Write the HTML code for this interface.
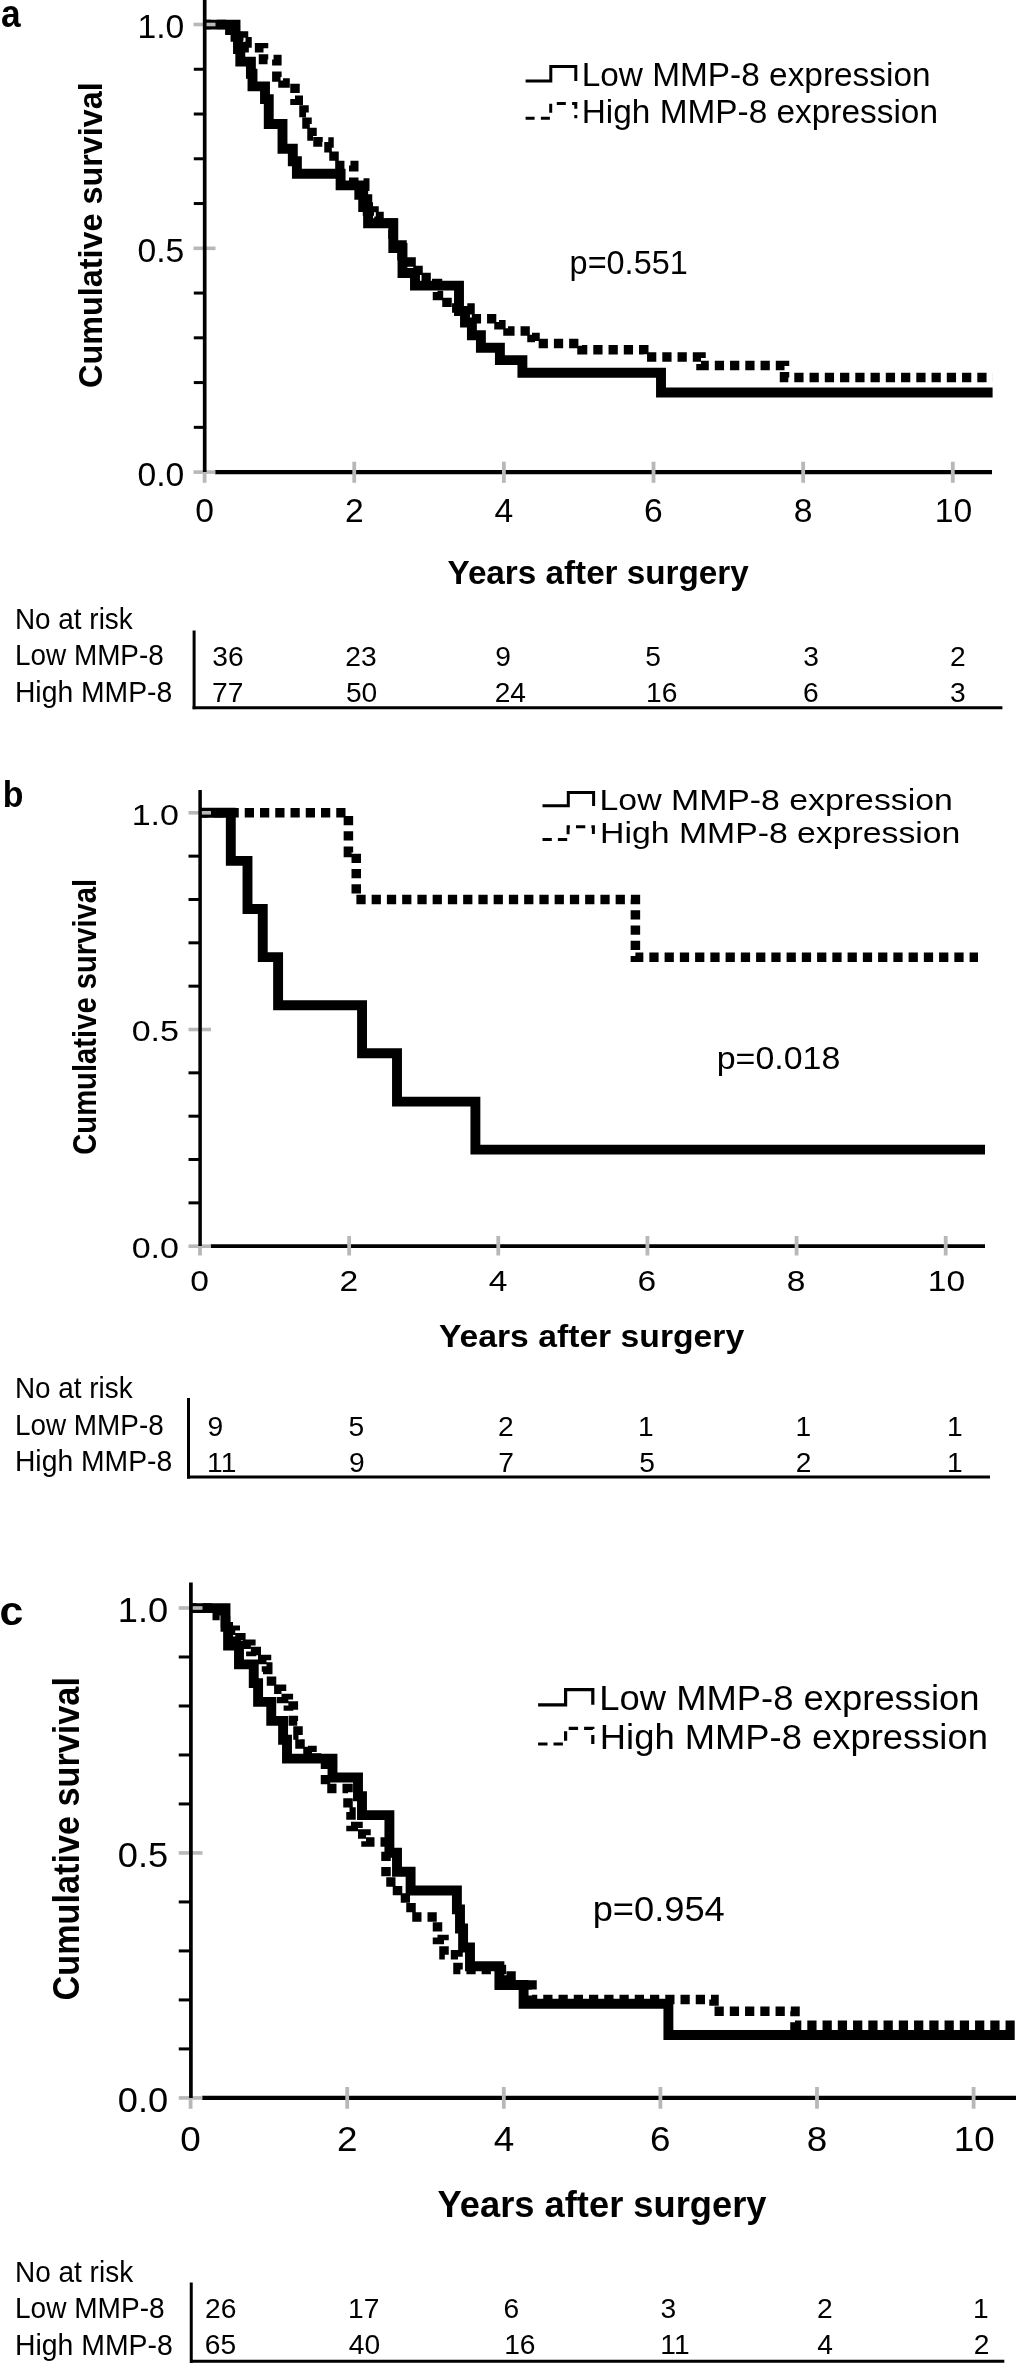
<!DOCTYPE html>
<html><head><meta charset="utf-8"><style>
html,body{margin:0;padding:0;background:#fff;}
svg{display:block;filter:grayscale(1);}
text{font-family:"Liberation Sans",sans-serif;fill:#000;}
</style></head><body>
<svg width="1016" height="2363" viewBox="0 0 1016 2363">
<rect width="1016" height="2363" fill="#fff"/>
<g id="pa">
<text transform="translate(0.94,27.2) scale(0.9128,1)" font-size="38.70" font-weight="bold">a</text>
<path d="M204.7,24.6 H235.5 V36.8 H238 V49 H240.3 V61.6 H250.9 V73.8 H252.5 V86.4 H265 V99.1 H268.75 V124 H282.5 V148.8 H292.8 V161.2 H296.9 V173.75 H340.6 V185.4 H359.3 V194.8 H363.2 V207.1 H368.1 V223.3 H393.3 V248 H402.5 V273 H415 V285.6 H459 V311 H465 V322.5 H471.9 V335.3 H480.9 V347.8 H499.9 V360.1 H522.4 V372.8 H661 V392.5 H992.6" fill="none" stroke="#000" stroke-width="9.9" stroke-linejoin="miter" stroke-linecap="butt"/>
<path d="M204.7,24.6 H229.85 V30.35 H235.35 V36 H243.5 V41.8 H247 V47.7 H263.5 V59.5 H276.85 V77 H283 V83 H295 V100.3 H304 V112.5 H307 V124 H312 V136 H318 V142 H329 V147.75 H334 V165.6 H353.75 V183 H364.75 V199 H367.5 V211 H374 V216.5 H379 V223 H393 V245 H402 V262 H418 V277.5 H432 V283.5 H437.5 V295.6 H447 V308 H470 V318.75 H499 V324.7 H508 V331 H532 V337.5 H535 V343.4 H582 V349.75 H643.75 V357 H701 V365.5 H784.5 V377.5 H992.6" fill="none" stroke="#000" stroke-width="9.5" stroke-dasharray="9.25 6" stroke-linejoin="miter" stroke-linecap="butt" stroke-dashoffset="3"/>
<line x1="215" y1="472.1" x2="992" y2="472.1" stroke="#000" stroke-width="4.2"/>
<line x1="193.8" y1="69.26" x2="204.7" y2="69.26" stroke="#000" stroke-width="3"/>
<line x1="193.8" y1="114.02" x2="204.7" y2="114.02" stroke="#000" stroke-width="3"/>
<line x1="193.8" y1="158.78" x2="204.7" y2="158.78" stroke="#000" stroke-width="3"/>
<line x1="193.8" y1="203.54" x2="204.7" y2="203.54" stroke="#000" stroke-width="3"/>
<line x1="193.8" y1="293.06" x2="204.7" y2="293.06" stroke="#000" stroke-width="3"/>
<line x1="193.8" y1="337.82" x2="204.7" y2="337.82" stroke="#000" stroke-width="3"/>
<line x1="193.8" y1="382.58" x2="204.7" y2="382.58" stroke="#000" stroke-width="3"/>
<line x1="193.8" y1="427.34" x2="204.7" y2="427.34" stroke="#000" stroke-width="3"/>
<line x1="354.24" y1="461.7" x2="354.24" y2="482.8" stroke="#b8b8b8" stroke-width="3.8"/>
<line x1="503.88" y1="461.7" x2="503.88" y2="482.8" stroke="#b8b8b8" stroke-width="3.8"/>
<line x1="653.52" y1="461.7" x2="653.52" y2="482.8" stroke="#b8b8b8" stroke-width="3.8"/>
<line x1="803.16" y1="461.7" x2="803.16" y2="482.8" stroke="#b8b8b8" stroke-width="3.8"/>
<line x1="952.8" y1="461.7" x2="952.8" y2="482.8" stroke="#b8b8b8" stroke-width="3.8"/>
<line x1="204.6" y1="470" x2="204.6" y2="482.8" stroke="#b8b8b8" stroke-width="3.8"/>
<line x1="193.5" y1="24.5" x2="215.5" y2="24.5" stroke="#b8b8b8" stroke-width="3.6"/>
<line x1="193.5" y1="248.3" x2="215.5" y2="248.3" stroke="#b8b8b8" stroke-width="3.6"/>
<line x1="193.5" y1="472.1" x2="215.5" y2="472.1" stroke="#b8b8b8" stroke-width="3.6"/>
<line x1="204.7" y1="0" x2="204.7" y2="472" stroke="#000" stroke-width="3.7"/>
<text transform="translate(137.41,37.9) scale(1.0000,1)" font-size="33.70" font-weight="normal">1.0</text>
<text transform="translate(137.4,261.7) scale(1.0000,1)" font-size="33.70" font-weight="normal">0.5</text>
<text transform="translate(137.4,485.5) scale(1.0000,1)" font-size="33.70" font-weight="normal">0.0</text>
<text transform="translate(195.26,522.2) scale(1.0200,1)" font-size="33.00" font-weight="normal">0</text>
<text transform="translate(344.9,522.2) scale(1.0200,1)" font-size="33.00" font-weight="normal">2</text>
<text transform="translate(494.62,522.2) scale(1.0200,1)" font-size="33.00" font-weight="normal">4</text>
<text transform="translate(644.1,522.2) scale(1.0200,1)" font-size="33.00" font-weight="normal">6</text>
<text transform="translate(793.74,522.2) scale(1.0200,1)" font-size="33.00" font-weight="normal">8</text>
<text transform="translate(934.73,522.2) scale(1.0200,1)" font-size="33.00" font-weight="normal">10</text>
<text transform="translate(447.54,584.2) scale(0.9846,1)" font-size="33.77" font-weight="bold">Years after surgery</text>
<text transform="translate(101.8,387.99) rotate(-90) scale(0.9659,1)" font-size="33.52" font-weight="bold">Cumulative survival</text>
<path d="M525.6,81 H550.8 V66.4 H575.8 V81" fill="none" stroke="#000" stroke-width="3" stroke-linejoin="miter" stroke-linecap="butt"/>
<path d="M525.6,118.2 H550.7 V103.5 H575.8 V118.2" fill="none" stroke="#000" stroke-width="3" stroke-dasharray="9 6.3" stroke-linejoin="miter" stroke-linecap="butt"/>
<text transform="translate(581.63,85.7) scale(1.0022,1)" font-size="33.33" font-weight="normal">Low MMP-8 expression</text>
<text transform="translate(581.73,122.7) scale(1.0199,1)" font-size="32.75" font-weight="normal">High MMP-8 expression</text>
<text transform="translate(569.59,273.8) scale(0.9964,1)" font-size="32.57" font-weight="normal">p=0.551</text>
<text transform="translate(14.97,628.9) scale(0.9480,1)" font-size="29.42" font-weight="normal">No at risk</text>
<text transform="translate(14.97,665.2) scale(0.9578,1)" font-size="29.13" font-weight="normal">Low MMP-8</text>
<text transform="translate(14.93,701.9) scale(0.9818,1)" font-size="28.84" font-weight="normal">High MMP-8</text>
<text transform="translate(212.34,665.5) scale(1.0000,1)" font-size="28.20">36</text>
<text transform="translate(345.33,665.5) scale(1.0000,1)" font-size="28.20">23</text>
<text transform="translate(495.32,665.5) scale(1.0000,1)" font-size="28.20">9</text>
<text transform="translate(645.32,665.5) scale(1.0000,1)" font-size="28.20">5</text>
<text transform="translate(803.37,665.5) scale(1.0000,1)" font-size="28.20">3</text>
<text transform="translate(949.97,665.5) scale(1.0000,1)" font-size="28.20">2</text>
<text transform="translate(212.1,701.8) scale(1.0000,1)" font-size="28.20">77</text>
<text transform="translate(345.9,701.8) scale(1.0000,1)" font-size="28.20">50</text>
<text transform="translate(494.67,701.8) scale(1.0000,1)" font-size="28.20">24</text>
<text transform="translate(645.98,701.8) scale(1.0000,1)" font-size="28.20">16</text>
<text transform="translate(802.93,701.8) scale(1.0000,1)" font-size="28.20">6</text>
<text transform="translate(950.04,701.8) scale(1.0000,1)" font-size="28.20">3</text>
<line x1="194.1" y1="630.5" x2="194.1" y2="709.2" stroke="#000" stroke-width="3"/>
<line x1="192.6" y1="707.65" x2="1002.4" y2="707.65" stroke="#000" stroke-width="3"/>
</g>
<g id="pb">
<text transform="translate(2.7,807) scale(0.9370,1)" font-size="36.14" font-weight="bold">b</text>
<path d="M200,812.8 H230.8 V860.9 H247.5 V909 H262.75 V957.1 H278.1 V1005.2 H362.05 V1053.3 H397 V1101.6 H475.4 V1149.6 H985" fill="none" stroke="#000" stroke-width="9.9" stroke-linejoin="miter" stroke-linecap="butt"/>
<path d="M200,812.8 H348.4 V852.5 H356.25 V899.4 H635.4 V957.2 H978" fill="none" stroke="#000" stroke-width="9.5" stroke-dasharray="9.25 6" stroke-linejoin="miter" stroke-linecap="butt" stroke-dashoffset="1"/>
<line x1="210.5" y1="1246.2" x2="985" y2="1246.2" stroke="#000" stroke-width="3.8"/>
<line x1="188.5" y1="856.14" x2="200.1" y2="856.14" stroke="#000" stroke-width="3"/>
<line x1="188.5" y1="899.48" x2="200.1" y2="899.48" stroke="#000" stroke-width="3"/>
<line x1="188.5" y1="942.82" x2="200.1" y2="942.82" stroke="#000" stroke-width="3"/>
<line x1="188.5" y1="986.16" x2="200.1" y2="986.16" stroke="#000" stroke-width="3"/>
<line x1="188.5" y1="1072.84" x2="200.1" y2="1072.84" stroke="#000" stroke-width="3"/>
<line x1="188.5" y1="1116.18" x2="200.1" y2="1116.18" stroke="#000" stroke-width="3"/>
<line x1="188.5" y1="1159.52" x2="200.1" y2="1159.52" stroke="#000" stroke-width="3"/>
<line x1="188.5" y1="1202.86" x2="200.1" y2="1202.86" stroke="#000" stroke-width="3"/>
<line x1="349.14" y1="1236" x2="349.14" y2="1255.5" stroke="#b8b8b8" stroke-width="3.8"/>
<line x1="498.28" y1="1236" x2="498.28" y2="1255.5" stroke="#b8b8b8" stroke-width="3.8"/>
<line x1="647.42" y1="1236" x2="647.42" y2="1255.5" stroke="#b8b8b8" stroke-width="3.8"/>
<line x1="796.56" y1="1236" x2="796.56" y2="1255.5" stroke="#b8b8b8" stroke-width="3.8"/>
<line x1="945.7" y1="1236" x2="945.7" y2="1255.5" stroke="#b8b8b8" stroke-width="3.8"/>
<line x1="200" y1="1244.5" x2="200" y2="1255.5" stroke="#b8b8b8" stroke-width="3.8"/>
<line x1="188.5" y1="812.8" x2="211" y2="812.8" stroke="#b8b8b8" stroke-width="3.6"/>
<line x1="188.5" y1="1029.5" x2="211" y2="1029.5" stroke="#b8b8b8" stroke-width="3.6"/>
<line x1="188.5" y1="1246.2" x2="211" y2="1246.2" stroke="#b8b8b8" stroke-width="3.6"/>
<line x1="200.1" y1="790" x2="200.1" y2="1246" stroke="#000" stroke-width="3.5"/>
<text transform="translate(131.65,824.5) scale(1.1500,1)" font-size="29.60" font-weight="normal">1.0</text>
<text transform="translate(131.65,1041.2) scale(1.1500,1)" font-size="29.60" font-weight="normal">0.5</text>
<text transform="translate(131.65,1257.9) scale(1.1500,1)" font-size="29.60" font-weight="normal">0.0</text>
<text transform="translate(190.28,1291.1) scale(1.1200,1)" font-size="30.00" font-weight="normal">0</text>
<text transform="translate(339.42,1291.1) scale(1.1200,1)" font-size="30.00" font-weight="normal">2</text>
<text transform="translate(488.64,1291.1) scale(1.1200,1)" font-size="30.00" font-weight="normal">4</text>
<text transform="translate(637.61,1291.1) scale(1.1200,1)" font-size="30.00" font-weight="normal">6</text>
<text transform="translate(786.75,1291.1) scale(1.1200,1)" font-size="30.00" font-weight="normal">8</text>
<text transform="translate(927.76,1291.1) scale(1.1200,1)" font-size="30.00" font-weight="normal">10</text>
<text transform="translate(438.93,1347) scale(1.1074,1)" font-size="30.43" font-weight="bold">Years after surgery</text>
<text transform="translate(95.8,1154.77) rotate(-90) scale(0.8575,1)" font-size="34.07" font-weight="bold">Cumulative survival</text>
<path d="M542.5,805.8 H568.3 V792.6 H593.6 V806" fill="none" stroke="#000" stroke-width="3" stroke-linejoin="miter" stroke-linecap="butt"/>
<path d="M542.5,839.4 H568.1 V826.7 H593.4 V839.4" fill="none" stroke="#000" stroke-width="3" stroke-dasharray="9.3 6.1" stroke-linejoin="miter" stroke-linecap="butt"/>
<text transform="translate(599.54,810) scale(1.1524,1)" font-size="29.35" font-weight="normal">Low MMP-8 expression</text>
<text transform="translate(600.05,843.1) scale(1.1651,1)" font-size="28.99" font-weight="normal">High MMP-8 expression</text>
<text transform="translate(716.69,1068.9) scale(1.1001,1)" font-size="30.86" font-weight="normal">p=0.018</text>
<text transform="translate(14.97,1398) scale(0.9252,1)" font-size="30.14" font-weight="normal">No at risk</text>
<text transform="translate(14.97,1434.8) scale(0.9391,1)" font-size="29.71" font-weight="normal">Low MMP-8</text>
<text transform="translate(14.93,1471.3) scale(0.9625,1)" font-size="29.42" font-weight="normal">High MMP-8</text>
<text transform="translate(207.62,1435.7) scale(1.0000,1)" font-size="28.20">9</text>
<text transform="translate(348.57,1435.7) scale(1.0000,1)" font-size="28.20">5</text>
<text transform="translate(497.92,1435.7) scale(1.0000,1)" font-size="28.20">2</text>
<text transform="translate(637.92,1435.7) scale(1.0000,1)" font-size="28.20">1</text>
<text transform="translate(795.62,1435.7) scale(1.0000,1)" font-size="28.20">1</text>
<text transform="translate(947.07,1435.7) scale(1.0000,1)" font-size="28.20">1</text>
<text transform="translate(207.05,1471.9) scale(1.0000,1)" font-size="28.20">11</text>
<text transform="translate(349.07,1471.9) scale(1.0000,1)" font-size="28.20">9</text>
<text transform="translate(498.32,1471.9) scale(1.0000,1)" font-size="28.20">7</text>
<text transform="translate(639.22,1471.9) scale(1.0000,1)" font-size="28.20">5</text>
<text transform="translate(795.82,1471.9) scale(1.0000,1)" font-size="28.20">2</text>
<text transform="translate(947.07,1471.9) scale(1.0000,1)" font-size="28.20">1</text>
<line x1="188.5" y1="1398" x2="188.5" y2="1478.6" stroke="#000" stroke-width="3"/>
<line x1="187" y1="1477.1" x2="990" y2="1477.1" stroke="#000" stroke-width="3"/>
</g>
<g id="pc">
<text transform="translate(-0.52,1625.2) scale(1.0623,1)" font-size="40.37" font-weight="bold">c</text>
<path d="M190.9,1608.1 H225.5 V1626.9 H228.1 V1645.6 H239 V1664.4 H253.75 V1683.1 H258.1 V1701.9 H271.25 V1720.9 H283.1 V1739.8 H287 V1758.6 H332.5 V1777.5 H358 V1796.3 H362 V1815.1 H389.4 V1852.8 H397 V1871.7 H410.6 V1890.5 H456.9 V1909.4 H460 V1928.5 H463.1 V1947.5 H470 V1966.25 H499.4 V1985 H523.6 V2003.8 H668.4 V2035 H1014.7" fill="none" stroke="#000" stroke-width="9.9" stroke-linejoin="miter" stroke-linecap="butt"/>
<path d="M190.9,1608.1 H217.25 V1615.6 H225.5 V1623.1 H230.6 V1630.35 H235.25 V1637.85 H240.85 V1644.15 H250.85 V1651.6 H256.25 V1659.5 H266.5 V1667 H267.75 V1674.5 H271.5 V1689.15 H281.5 V1698.5 H288.35 V1706 H293.35 V1721 H298 V1735 H300 V1744 H308 V1750.5 H312 V1758 H325.5 V1788.5 H348 V1812 H351 V1826.5 H358 V1834 H366 V1842 H386 V1882 H397.5 V1898 H411 V1917 H437.5 V1939.5 H444 V1954.7 H458 V1969.6 H506.5 V1976 H511 V1985 H532 V1999.5 H714 V2011.2 H795 V2025.2 H1014.7" fill="none" stroke="#000" stroke-width="9.5" stroke-dasharray="9.25 6" stroke-linejoin="miter" stroke-linecap="butt" stroke-dashoffset="3.5"/>
<line x1="202" y1="2097.9" x2="1016" y2="2097.9" stroke="#000" stroke-width="4.2"/>
<line x1="178.75" y1="1656.99" x2="190.9" y2="1656.99" stroke="#000" stroke-width="3"/>
<line x1="178.75" y1="1705.98" x2="190.9" y2="1705.98" stroke="#000" stroke-width="3"/>
<line x1="178.75" y1="1754.97" x2="190.9" y2="1754.97" stroke="#000" stroke-width="3"/>
<line x1="178.75" y1="1803.96" x2="190.9" y2="1803.96" stroke="#000" stroke-width="3"/>
<line x1="178.75" y1="1901.94" x2="190.9" y2="1901.94" stroke="#000" stroke-width="3"/>
<line x1="178.75" y1="1950.93" x2="190.9" y2="1950.93" stroke="#000" stroke-width="3"/>
<line x1="178.75" y1="1999.92" x2="190.9" y2="1999.92" stroke="#000" stroke-width="3"/>
<line x1="178.75" y1="2048.91" x2="190.9" y2="2048.91" stroke="#000" stroke-width="3"/>
<line x1="347.2" y1="2087" x2="347.2" y2="2108.75" stroke="#b8b8b8" stroke-width="3.8"/>
<line x1="503.8" y1="2087" x2="503.8" y2="2108.75" stroke="#b8b8b8" stroke-width="3.8"/>
<line x1="660.4" y1="2087" x2="660.4" y2="2108.75" stroke="#b8b8b8" stroke-width="3.8"/>
<line x1="817" y1="2087" x2="817" y2="2108.75" stroke="#b8b8b8" stroke-width="3.8"/>
<line x1="973.6" y1="2087" x2="973.6" y2="2108.75" stroke="#b8b8b8" stroke-width="3.8"/>
<line x1="190.6" y1="2096" x2="190.6" y2="2108.75" stroke="#b8b8b8" stroke-width="3.8"/>
<line x1="178.75" y1="1608" x2="202.5" y2="1608" stroke="#b8b8b8" stroke-width="3.6"/>
<line x1="178.75" y1="1852.95" x2="202.5" y2="1852.95" stroke="#b8b8b8" stroke-width="3.6"/>
<line x1="178.75" y1="2097.9" x2="202.5" y2="2097.9" stroke="#b8b8b8" stroke-width="3.6"/>
<line x1="190.9" y1="1582.5" x2="190.9" y2="2098" stroke="#000" stroke-width="3.7"/>
<text transform="translate(117.8,1622.2) scale(1.0500,1)" font-size="34.50" font-weight="normal">1.0</text>
<text transform="translate(117.8,1867.15) scale(1.0500,1)" font-size="34.50" font-weight="normal">0.5</text>
<text transform="translate(117.8,2112.1) scale(1.0500,1)" font-size="34.50" font-weight="normal">0.0</text>
<text transform="translate(180.37,2151.1) scale(1.0300,1)" font-size="35.80" font-weight="normal">0</text>
<text transform="translate(336.97,2151.1) scale(1.0300,1)" font-size="35.80" font-weight="normal">2</text>
<text transform="translate(493.66,2151.1) scale(1.0300,1)" font-size="35.80" font-weight="normal">4</text>
<text transform="translate(650.08,2151.1) scale(1.0300,1)" font-size="35.80" font-weight="normal">6</text>
<text transform="translate(806.68,2151.1) scale(1.0300,1)" font-size="35.80" font-weight="normal">8</text>
<text transform="translate(953.69,2151.1) scale(1.0300,1)" font-size="35.80" font-weight="normal">10</text>
<text transform="translate(437.57,2216.8) scale(1.0066,1)" font-size="36.09" font-weight="bold">Years after surgery</text>
<text transform="translate(78.7,2000.47) rotate(-90) scale(0.9296,1)" font-size="36.83" font-weight="bold">Cumulative survival</text>
<path d="M538.1,1704.8 H565.6 V1689.7 H592.8 V1704.8" fill="none" stroke="#000" stroke-width="3.2" stroke-linejoin="miter" stroke-linecap="butt"/>
<path d="M538.1,1744 H565.6 V1728.4 H592.8 V1744" fill="none" stroke="#000" stroke-width="3.2" stroke-dasharray="9.4 6" stroke-linejoin="miter" stroke-linecap="butt"/>
<text transform="translate(599.34,1710) scale(1.0150,1)" font-size="35.87" font-weight="normal">Low MMP-8 expression</text>
<text transform="translate(599.84,1749) scale(1.0458,1)" font-size="34.78" font-weight="normal">High MMP-8 expression</text>
<text transform="translate(592.64,1921.3) scale(1.0117,1)" font-size="35.86" font-weight="normal">p=0.954</text>
<text transform="translate(14.96,2281.9) scale(0.9284,1)" font-size="30.14" font-weight="normal">No at risk</text>
<text transform="translate(14.95,2318.3) scale(0.9268,1)" font-size="30.29" font-weight="normal">Low MMP-8</text>
<text transform="translate(14.93,2354.8) scale(0.9758,1)" font-size="29.13" font-weight="normal">High MMP-8</text>
<text transform="translate(205.08,2318.3) scale(1.0000,1)" font-size="28.20">26</text>
<text transform="translate(348.1,2318.3) scale(1.0000,1)" font-size="28.20">17</text>
<text transform="translate(503.55,2318.3) scale(1.0000,1)" font-size="28.20">6</text>
<text transform="translate(660.39,2318.3) scale(1.0000,1)" font-size="28.20">3</text>
<text transform="translate(817.12,2318.3) scale(1.0000,1)" font-size="28.20">2</text>
<text transform="translate(973.02,2318.3) scale(1.0000,1)" font-size="28.20">1</text>
<text transform="translate(204.81,2354.4) scale(1.0000,1)" font-size="28.20">65</text>
<text transform="translate(348.71,2354.4) scale(1.0000,1)" font-size="28.20">40</text>
<text transform="translate(504.18,2354.4) scale(1.0000,1)" font-size="28.20">16</text>
<text transform="translate(660.35,2354.4) scale(1.0000,1)" font-size="28.20">11</text>
<text transform="translate(817.34,2354.4) scale(1.0000,1)" font-size="28.20">4</text>
<text transform="translate(973.87,2354.4) scale(1.0000,1)" font-size="28.20">2</text>
<line x1="191.25" y1="2282.5" x2="191.25" y2="2363" stroke="#000" stroke-width="3"/>
<line x1="190" y1="2361.3" x2="1004.3" y2="2361.3" stroke="#000" stroke-width="3"/>
</g>
</svg>
</body></html>
